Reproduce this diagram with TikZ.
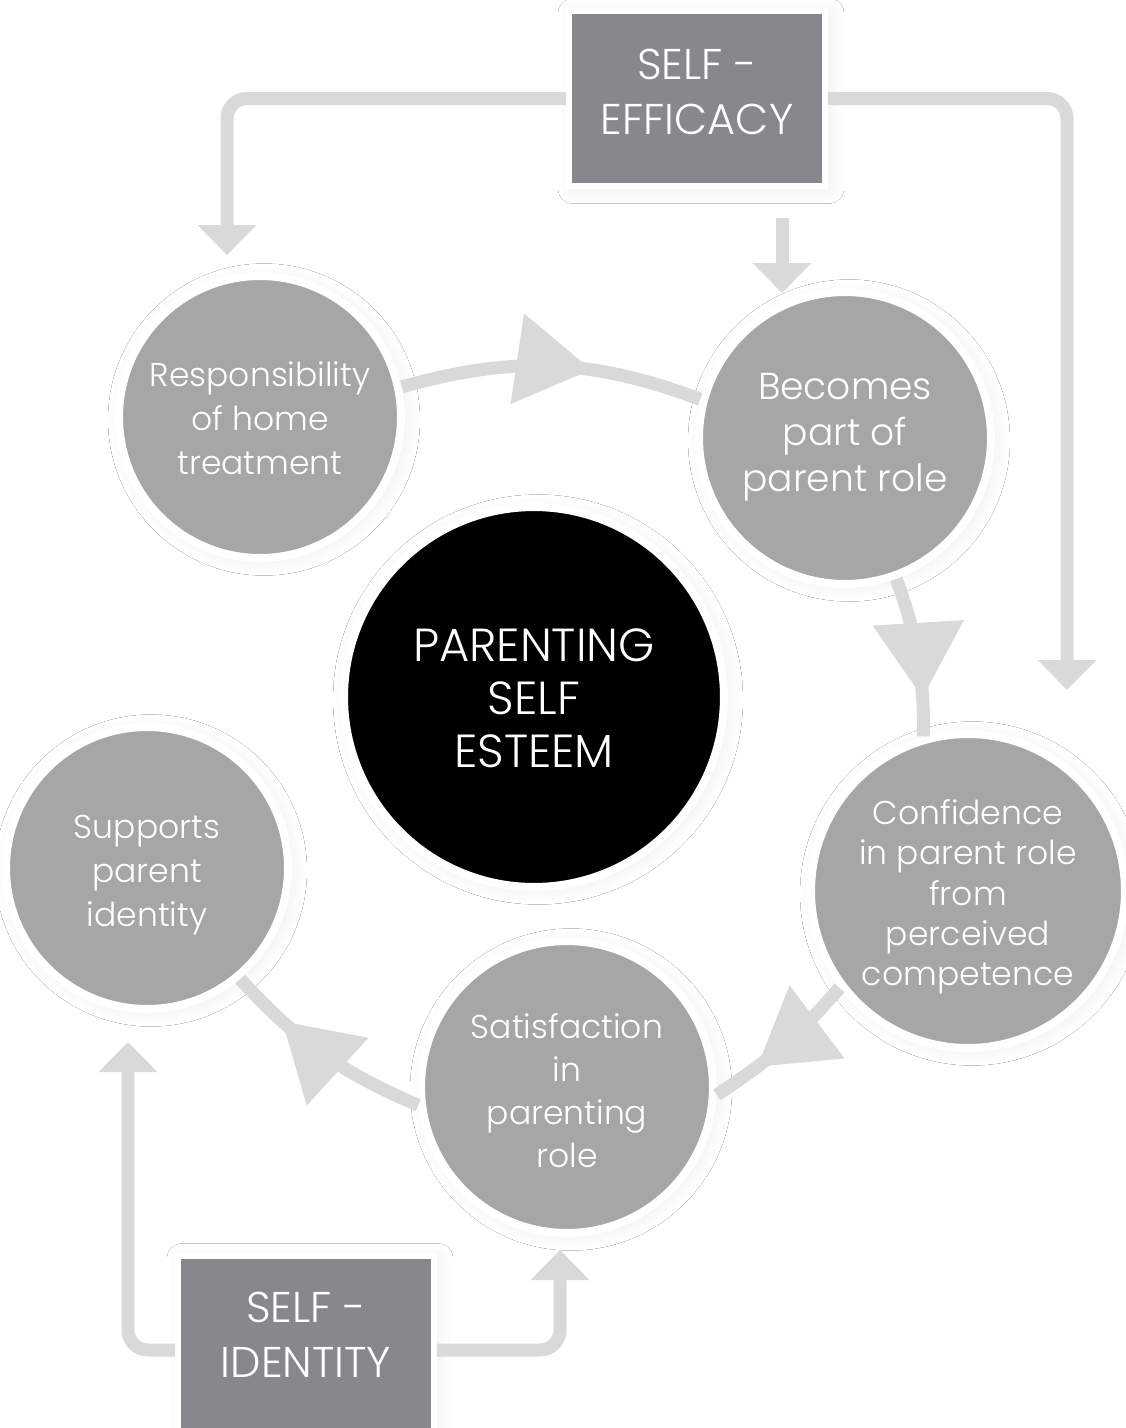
\documentclass[tikz,border=0pt]{standalone}
\usepackage{fontspec}
\setmainfont{Poppins}[UprightFont=* Light]
\usetikzlibrary{arrows.meta,decorations.markings,shadows.blur}
\definecolor{circgrey}{HTML}{A6A6A6}
\definecolor{boxgrey}{HTML}{86888B}
\definecolor{conngrey}{HTML}{D9D9D9}
\newcommand\shiftedlines[2]{\raisebox{#1}[\height][\depth]{\begin{tabular}{@{}c@{}}#2\end{tabular}}}
\tikzset{
  soft/.style={blur shadow={shadow blur radius=0.3cm, shadow xshift=0.08cm, shadow yshift=-0.05cm, shadow opacity=7, shadow blur steps=12}},
  bubble/.style={circle, fill=circgrey, draw=white, line width=0.16cm, text=white, inner sep=0pt, soft, font=\fontsize{18.8pt}{25pt}\selectfont},
  core/.style={bubble, fill=black, font=\fontsize{26.4pt}{30.2pt}\selectfont},
  factor/.style={rectangle, fill=boxgrey, draw=white, line width=0.12cm, text=white, soft, minimum width=5.12cm, font=\fontsize{24.5pt}{31.3pt}\selectfont},
  conn/.style={draw=conngrey, line width=0.26cm, rounded corners=0.4cm, -{Triangle[length=0.6cm,width=1.14cm]}},
  loopline/.style={draw=conngrey, line width=0.26cm, postaction={decorate}, decoration={markings, mark=at position #1 with {\arrow[draw=conngrey,fill=conngrey]{Triangle[length=1.5cm,width=1.76cm]}}}},
}
\begin{document}
\begin{tikzpicture}[x=0.02cm,y=-0.02cm]
\useasboundingbox[fill=white] (0,0) rectangle (1126,1428);
% circles
\node[bubble, minimum size=5.64cm] (resp) at (260,417) {\shiftedlines{-0.1cm}{Responsibility\\of home\\treatment}};
\node[bubble, minimum size=5.84cm, font=\fontsize{21.4pt}{26.2pt}\selectfont] (becomes) at (845,438) {\shiftedlines{0.04cm}{Becomes\\part of\\parent role}};
\node[core, minimum size=7.6cm] (core) at (534,697) {\shiftedlines{-0.14cm}{PARENTING\\SELF\\ESTEEM}};
\node[bubble, minimum size=5.64cm] (supp) at (147,868) {\shiftedlines{-0.12cm}{Supports\\parent\\identity}};
\node[bubble, minimum size=6.28cm, font=\fontsize{18.8pt}{22.8pt}\selectfont] (conf) at (968,891) {\shiftedlines{-0.12cm}{Confidence\\in parent role\\from\\perceived\\competence}};
\node[bubble, minimum size=5.84cm, font=\fontsize{18.8pt}{24.5pt}\selectfont] (satis) at (567,1087) {\shiftedlines{-0.14cm}{Satisfaction\\in\\parenting\\role}};
% boxes
\node[factor, minimum height=3.5cm] (eff) at (697,98.5) {\shiftedlines{0.06cm}{SELF -\\EFFICACY}};
\node[factor, minimum height=3.6cm] (ident) at (306,1346) {\shiftedlines{0.14cm}{SELF -\\IDENTITY}};
% free ends
\coordinate (tl) at (227,255);
\coordinate (tr) at (1067,690);
\coordinate (ms) at (782,218);
\coordinate (me) at (782,293);
\coordinate (bl) at (128,1042);
\coordinate (br) at (560,1250);
% box connectors
\draw[conn] (eff.west) -| (tl);
\draw[conn] (eff.east) -| (tr);
\draw[conn] (ms) -- (me);
\draw[conn] ([yshift=-0.08cm]ident.west) -| (bl);
\draw[conn] ([yshift=-0.08cm]ident.east) -| (br);
% cycle
\draw[loopline=0.63] (resp.12) to[bend left=18] (becomes.165);
\draw[loopline=0.76] (becomes.-70) to[bend left=10] (conf.106);
\draw[loopline=0.7] (conf.217) to[bend left=8] (satis.-3);
\draw[loopline=0.73] (satis.187) to[bend left=12] (supp.-50);
\end{tikzpicture}
\end{document}
